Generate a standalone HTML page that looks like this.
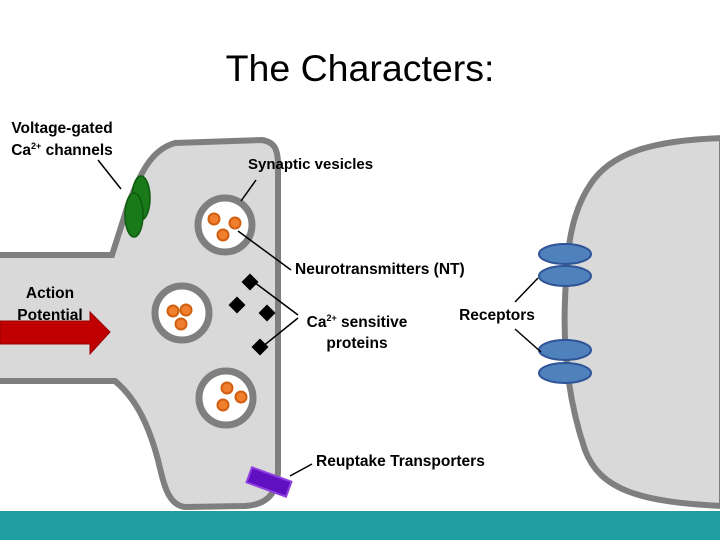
<!DOCTYPE html>
<html><head><style>
body{margin:0;width:720px;height:540px;overflow:hidden;background:#fff;font-family:"Liberation Sans",sans-serif}
</style></head><body>
<svg width="720" height="540" xmlns="http://www.w3.org/2000/svg" style="position:absolute;left:0;top:0">
<text x="360" y="81" text-anchor="middle" font-size="37.5" font-family="Liberation Sans">The Characters:</text>
<!-- postsynaptic -->
<path d="M722,138 C660,140 612,150 590,185 C570,215 567,250 565,300 C563,350 568,400 585,450 C600,490 640,502 722,506 Z" fill="#d9d9d9" stroke="#7f7f7f" stroke-width="6"/>
<!-- presynaptic -->
<path d="M-5,255 L112,255 L128,205 C140,175 150,150 175,143 L262,140 C275,142 278,150 278,165 L278,470 C278,495 265,505 245,506 L185,507 C168,505 164,485 158,460 C150,430 138,400 115,381 L-5,381 Z" fill="#d9d9d9" stroke="#7f7f7f" stroke-width="6"/>
<!-- vesicles -->
<g stroke="#7f7f7f" stroke-width="7" fill="#fff">
<circle cx="225" cy="225" r="27"/><circle cx="182" cy="313" r="27"/><circle cx="226" cy="398" r="27"/>
</g>
<g fill="#f08030" stroke="#d06010" stroke-width="2">
<circle cx="214" cy="219" r="5.5"/><circle cx="235" cy="223" r="5.5"/><circle cx="223" cy="235" r="5.5"/>
<circle cx="173" cy="311" r="5.5"/><circle cx="186" cy="310" r="5.5"/><circle cx="181" cy="324" r="5.5"/>
<circle cx="227" cy="388" r="5.5"/><circle cx="241" cy="397" r="5.5"/><circle cx="223" cy="405" r="5.5"/>
</g>
<!-- channels -->
<ellipse cx="141" cy="198" rx="9" ry="22" fill="#1a7a1a" stroke="#0e5a0e" stroke-width="1.5"/>
<ellipse cx="134" cy="215" rx="9" ry="22" fill="#1a7a1a" stroke="#0e5a0e" stroke-width="1.5"/>
<!-- diamonds -->
<g fill="#000">
<rect x="244" y="276" width="12" height="12" transform="rotate(45 250 282)"/>
<rect x="231" y="299" width="12" height="12" transform="rotate(45 237 305)"/>
<rect x="261" y="307" width="12" height="12" transform="rotate(45 267 313)"/>
<rect x="254" y="341" width="12" height="12" transform="rotate(45 260 347)"/>
</g>
<!-- arrow -->
<path d="M0,321 L90,321 L90,312 L110,332 L90,354 L90,344 L0,344 Z" fill="#c00000" stroke="#900" stroke-width="1"/>
<!-- purple -->
<rect x="248" y="474" width="42" height="16" fill="#6010c0" stroke="#9040e0" stroke-width="2" transform="rotate(20 269 482)"/>
<!-- receptors -->
<g fill="#4f81bd" stroke="#2f5597" stroke-width="2">
<ellipse cx="565" cy="254" rx="26" ry="10"/><ellipse cx="565" cy="276" rx="26" ry="10"/>
<ellipse cx="565" cy="350" rx="26" ry="10"/><ellipse cx="565" cy="373" rx="26" ry="10"/>
</g>
<!-- leader lines -->
<g stroke="#000" stroke-width="1.5">
<line x1="98" y1="160" x2="121" y2="189"/>
<line x1="256" y1="180" x2="241" y2="201"/>
<line x1="238" y1="231" x2="291" y2="270"/>
<line x1="254" y1="282" x2="298" y2="315"/>
<line x1="262" y1="347" x2="298" y2="318"/>
<line x1="515" y1="302" x2="538" y2="278"/>
<line x1="515" y1="329" x2="541" y2="352"/>
<line x1="290" y1="476" x2="312" y2="464"/>
</g>
<g font-family="Liberation Sans" font-weight="bold" font-size="15.5" fill="#000">
<text x="62" y="133" text-anchor="middle">Voltage-gated</text>
<text x="62" y="155" text-anchor="middle">Ca<tspan font-size="9" dy="-6">2+</tspan><tspan dy="6"> channels</tspan></text>
<text x="248" y="169" font-size="15">Synaptic vesicles</text>
<text x="295" y="274">Neurotransmitters (NT)</text>
<text x="50" y="298" text-anchor="middle">Action</text>
<text x="50" y="320" text-anchor="middle">Potential</text>
<text x="357" y="327" text-anchor="middle">Ca<tspan font-size="9" dy="-6">2+</tspan><tspan dy="6"> sensitive</tspan></text>
<text x="357" y="348" text-anchor="middle">proteins</text>
<text x="497" y="320" text-anchor="middle">Receptors</text>
<text x="316" y="466">Reuptake Transporters</text>
</g>
<rect x="0" y="511" width="720" height="29" fill="#1e9ea0"/>
</svg>
</body></html>
